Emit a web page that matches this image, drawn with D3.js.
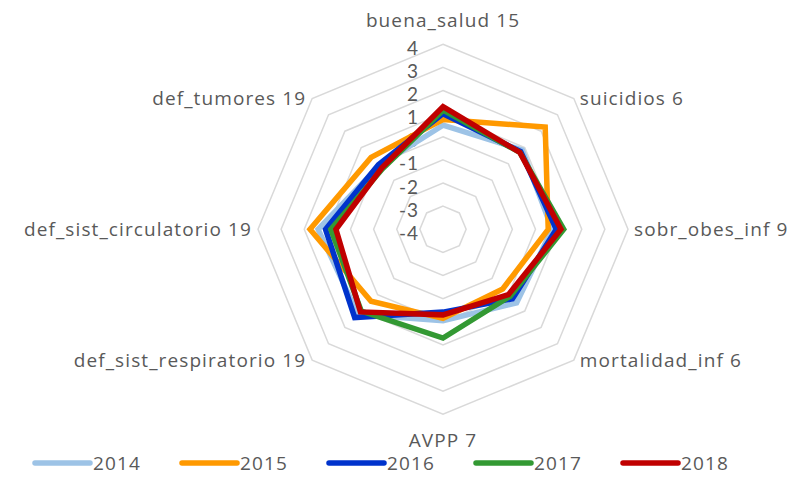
<!DOCTYPE html>
<html>
<head>
<meta charset="utf-8">
<script src="https://cdn.jsdelivr.net/npm/d3@7"></script>
<style>
  body { margin: 0; background: #fff; }
  text { font-family: "Open Sans", Lato, sans-serif; fill: #595959; letter-spacing: 1.1px; }
  text.tick { font-family: Lato, "Open Sans", sans-serif; letter-spacing: 1px; }
</style>
</head>
<body>
<div id="chart"></div>
<script>
// axes, clockwise from the top
var categories = ["buena_salud 15", "suicidios 6", "sobr_obes_inf 9", "mortalidad_inf 6",
    "AVPP 7", "def_sist_respiratorio 19", "def_sist_circulatorio 19", "def_tumores 19"];
var years = ["2014", "2015", "2016", "2017", "2018"];
var ticks = [-4, -3, -2, -1, 0, 1, 2, 3, 4];

var v2014 = [0.5, 0.85, 0.72, 0.5, -0.05, 1.2, 1.4, -0.1];
var v2015 = [0.75, 2.25, 0.55, -0.35, -0.15, 0.4, 1.75, 0.4];
var v2016 = [1.0, 0.75, 0.9, 0.25, -0.42, 1.4, 1.08, -0.05];
var v2017 = [1.15, 0.7, 1.22, 0.1, 0.7, 1.0, 0.85, -0.3];
var v2018 = [1.3, 0.7, 1.1, 0.0, -0.3, 1.05, 0.63, -0.25];

var colors = ["#9dc3e6", "#ff9900", "#0033cc", "#339933", "#c00000"];
var series = [v2014, v2015, v2016, v2017, v2018];

var width = 797, height = 477;
var cx = 443, cy = 229.3, radius = 185;
var fontSize = 19;

var svg = d3.select("#chart").append("svg")
    .attr("width", width)
    .attr("height", height);

var r = d3.scaleLinear().domain([-4, 4]).range([0, radius]);
var angle = d3.scalePoint().domain(d3.range(categories.length))
    .range([0, 2 * Math.PI * (categories.length - 1) / categories.length]);

var g = svg.append("g").attr("transform", "translate(" + cx + "," + cy + ")");

var line = d3.lineRadial()
    .angle(function (d, i) { return angle(i); })
    .radius(function (d) { return r(d); })
    .curve(d3.curveLinearClosed);

// grid octagons
g.selectAll(".grid")
    .data(ticks.filter(function (t) { return t > -4; }))
    .enter().append("path")
    .attr("class", "grid")
    .attr("d", function (t) { return line(categories.map(function () { return t; })); })
    .attr("fill", "none")
    .attr("stroke", "#d9d9d9")
    .attr("stroke-width", 1.5);

// tick labels
g.selectAll(".tick")
    .data(ticks)
    .enter().append("text")
    .attr("class", "tick")
    .attr("x", -24)
    .attr("y", function (t) { return -r(t) + 10.5; })
    .attr("text-anchor", "end")
    .attr("font-size", fontSize)
    .text(function (t) { return t; });

// series
g.selectAll(".series")
    .data(series)
    .enter().append("path")
    .attr("d", line)
    .attr("fill", "none")
    .attr("stroke", function (d, i) { return colors[i]; })
    .attr("stroke-width", 5.5)
    .attr("stroke-linejoin", "miter");

// category labels
g.selectAll(".cat")
    .data(categories)
    .enter().append("text")
    .attr("font-size", fontSize)
    .attr("x", function (d, i) {
        var a = angle(i), s = Math.sin(a);
        var x = Math.sin(a) * radius;
        if (Math.abs(s) < 0.01) return 0;
        return x + (s > 0 ? 6 : -6);
    })
    .attr("y", function (d, i) {
        var a = angle(i), c = Math.cos(a);
        var y = -Math.cos(a) * radius;
        if (c > 0.99) return y - 17.5;
        if (c < -0.99) return y + 33;
        return y + 7;
    })
    .attr("text-anchor", function (d, i) {
        var s = Math.sin(angle(i));
        if (Math.abs(s) < 0.01) return "middle";
        return s > 0 ? "start" : "end";
    })
    .text(function (d) { return d; });

// legend
var legend = svg.append("g").attr("transform", "translate(35,463)");
var item = legend.selectAll(".item")
    .data(years)
    .enter().append("g")
    .attr("transform", function (d, i) { return "translate(" + (i * 147) + ",0)"; });

item.append("line")
    .attr("x1", 0).attr("x2", 55)
    .attr("y1", 0).attr("y2", 0)
    .attr("stroke", function (d, i) { return colors[i]; })
    .attr("stroke-width", 5.5)
    .attr("stroke-linecap", "round");

item.append("text")
    .attr("x", 58)
    .attr("y", 7)
    .attr("font-size", fontSize)
    .text(function (d) { return d; });
</script>
</body>
</html>
